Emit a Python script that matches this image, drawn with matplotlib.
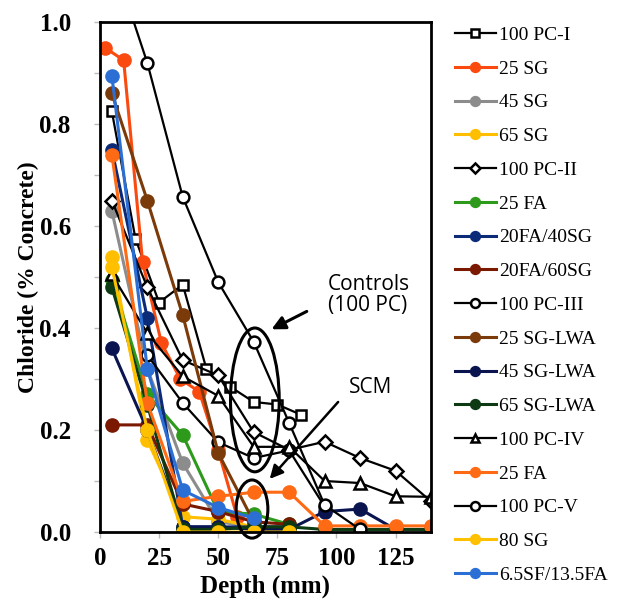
import matplotlib
matplotlib.use("Agg")
import matplotlib.pyplot as plt
from matplotlib.patches import Ellipse

# depth (mm) and chloride (% concrete) for every mix
pc1_d = [5, 15, 25, 35, 45, 55, 65, 75, 85]
pc1_v = [0.825, 0.575, 0.45, 0.485, 0.32, 0.285, 0.255, 0.25, 0.23]
sg25_d = [2, 10, 18, 26, 34, 42, 50, 58]
sg25_v = [0.95, 0.925, 0.53, 0.37, 0.30, 0.275, 0.16, 0.03]
sg45_d = [5, 20, 35, 50, 65, 80]
sg45_v = [0.63, 0.32, 0.135, 0.02, 0.01, 0.01]
sg65_d = [5, 20, 35, 50, 65, 80]
sg65_v = [0.54, 0.18, 0.03, 0.025, 0.01, 0.005]
pc2_d = [5, 20, 35, 50, 65, 80, 95, 110, 125, 140]
pc2_v = [0.65, 0.48, 0.337, 0.307, 0.196, 0.161, 0.177, 0.145, 0.12, 0.06]
fa25_d = [5, 20, 35, 50, 65, 80]
fa25_v = [0.495, 0.27, 0.19, 0.04, 0.035, 0.015]
fa20sg40_d = [5, 20, 35, 50, 65, 80]
fa20sg40_v = [0.75, 0.42, 0.01, 0.01, 0.01, 0.01]
fa20sg60_d = [5, 20, 35, 50, 65, 80]
fa20sg60_v = [0.21, 0.21, 0.055, 0.04, 0.02, 0.015]
pc3_d = [20, 35, 50, 65, 80, 95]
pc3_v = [0.347, 0.253, 0.176, 0.145, 0.16, 0.05]
lwa25_d = [5, 20, 35, 50, 65]
lwa25_v = [0.86, 0.65, 0.425, 0.155, 0.02]
lwa45_d = [5, 20, 35, 50, 65, 80, 95, 110, 125]
lwa45_v = [0.36, 0.2, 0.01, 0.01, 0.005, 0.005, 0.04, 0.045, 0.005]
lwa65_d = [5, 20, 35, 50, 65, 80, 95, 110, 125, 140]
lwa65_v = [0.48, 0.25, 0.005, 0.005, 0.01, 0.01, 0.005, 0.005, 0.005, 0.005]
pc4_d = [5, 20, 35, 50, 65, 80, 95, 110, 125, 140]
pc4_v = [0.505, 0.39, 0.305, 0.267, 0.167, 0.167, 0.10, 0.096, 0.07, 0.069]
fa25b_d = [5, 20, 35, 50, 65, 80, 95, 110, 125, 140]
fa25b_v = [0.74, 0.253, 0.06, 0.07, 0.078, 0.078, 0.012, 0.012, 0.012, 0.012]
pc5_d = [5, 20, 35, 50, 65, 80, 95, 110]
pc5_v = [1.13, 0.92, 0.657, 0.49, 0.373, 0.214, 0.053, 0.005]
sg80_d = [5, 20, 35, 50, 65, 80]
sg80_v = [0.52, 0.2, 0.0, 0.0, 0.0, 0.0]
sffa_d = [5, 20, 35, 50, 65]
sffa_v = [0.895, 0.32, 0.082, 0.048, 0.027]

plt.rcParams['font.family'] = ['Liberation Serif', 'DejaVu Serif']

fig = plt.figure(figsize=(6.29, 6.08), dpi=100)
ax = fig.add_axes([100/629, 1-532/608, 331/629, 510/608])

def solid(d, v, c, lab):
    ax.plot(d, v, '-o', color=c, lw=2.2, ms=9.5, mec=c, mfc=c, label=lab)

def hollow(d, v, m, lab, ms=8.5):
    ax.plot(d, v, '-', marker=m, color='black', lw=1.6, ms=ms, mec='black',
            mfc='white', mew=1.8, label=lab)

hollow(pc1_d, pc1_v, 's', '100 PC-I', 7.5)
solid(sg25_d, sg25_v, '#fa4a10', '25 SG')
solid(sg45_d, sg45_v, '#8c8c8c', '45 SG')
solid(sg65_d, sg65_v, '#ffbf00', '65 SG')
hollow(pc2_d, pc2_v, 'D', '100 PC-II', 7)
solid(fa25_d, fa25_v, '#2e9a1c', '25 FA')
solid(fa20sg40_d, fa20sg40_v, '#0b2a78', '20FA/40SG')
solid(fa20sg60_d, fa20sg60_v, '#7a1800', '20FA/60SG')
hollow(pc3_d, pc3_v, 'o', '100 PC-III')
solid(lwa25_d, lwa25_v, '#7a3a0a', '25 SG-LWA')
solid(lwa45_d, lwa45_v, '#0a1550', '45 SG-LWA')
solid(lwa65_d, lwa65_v, '#0d3a12', '65 SG-LWA')
hollow(pc4_d, pc4_v, '^', '100 PC-IV')
solid(fa25b_d, fa25b_v, '#ff6a14', '25 FA')
hollow(pc5_d, pc5_v, 'o', '100 PC-V')
solid(sg80_d, sg80_v, '#ffc000', '80 SG')
solid(sffa_d, sffa_v, '#2c6fd4', '6.5SF/13.5FA')

ax.set_xlim(0, 140)
ax.set_ylim(0, 1.0)
ax.set_xticks([0, 25, 50, 75, 100, 125])
ax.set_yticks([0, 0.1, 0.2, 0.3, 0.4, 0.5, 0.6, 0.7, 0.8, 0.9, 1.0])
ax.set_yticklabels(['0.0', '', '0.2', '', '0.4', '', '0.6', '', '0.8', '', '1.0'])
ax.tick_params(length=4, width=1, color='#bbbbbb', labelsize=18)
ax.tick_params(axis='y', pad=17)
ax.tick_params(axis='x', pad=7)
for t in ax.get_xticklabels() + ax.get_yticklabels():
    t.set_fontweight('bold')
for s in ax.spines.values():
    s.set_linewidth(2)
    s.set_zorder(5)
ax.set_xlabel('Depth (mm)', fontsize=18, fontweight='bold', labelpad=3)
ax.set_ylabel('Chloride (% Concrete)', fontsize=17, fontweight='bold', labelpad=0)

# highlight ellipses and call-outs
ax.add_patch(Ellipse((65.5, 0.259), 20.6, 0.282, fill=False, lw=2.2, ec='black', zorder=6))
ax.add_patch(Ellipse((64.3, 0.045), 13.4, 0.114, fill=False, lw=2.2, ec='black',
                     zorder=6, clip_on=False))
ax.annotate('', xy=(71.5, 0.395), xytext=(88.5, 0.435),
            arrowprops=dict(arrowstyle='-|>', color='black', lw=2.2, mutation_scale=20))
ax.annotate('', xy=(71, 0.1), xytext=(101.5, 0.259),
            arrowprops=dict(arrowstyle='-|>', color='black', lw=1.8, mutation_scale=20))
ax.text(96.5, 0.465, 'Controls\n(100 PC)', fontsize=15, family='Open Sans',
        ha='left', va='center', linespacing=1.0)
ax.text(114.5, 0.284, 'SCM', fontsize=15, family='Open Sans', ha='center', va='center')

fig.legend(loc='center left', bbox_to_anchor=(455/629, 1-305/608), frameon=False,
           fontsize=14, labelspacing=0.83, handlelength=2.1, handletextpad=0.15,
           borderpad=0, borderaxespad=0, markerscale=0.75)

fig.savefig('out.png', dpi=100)
